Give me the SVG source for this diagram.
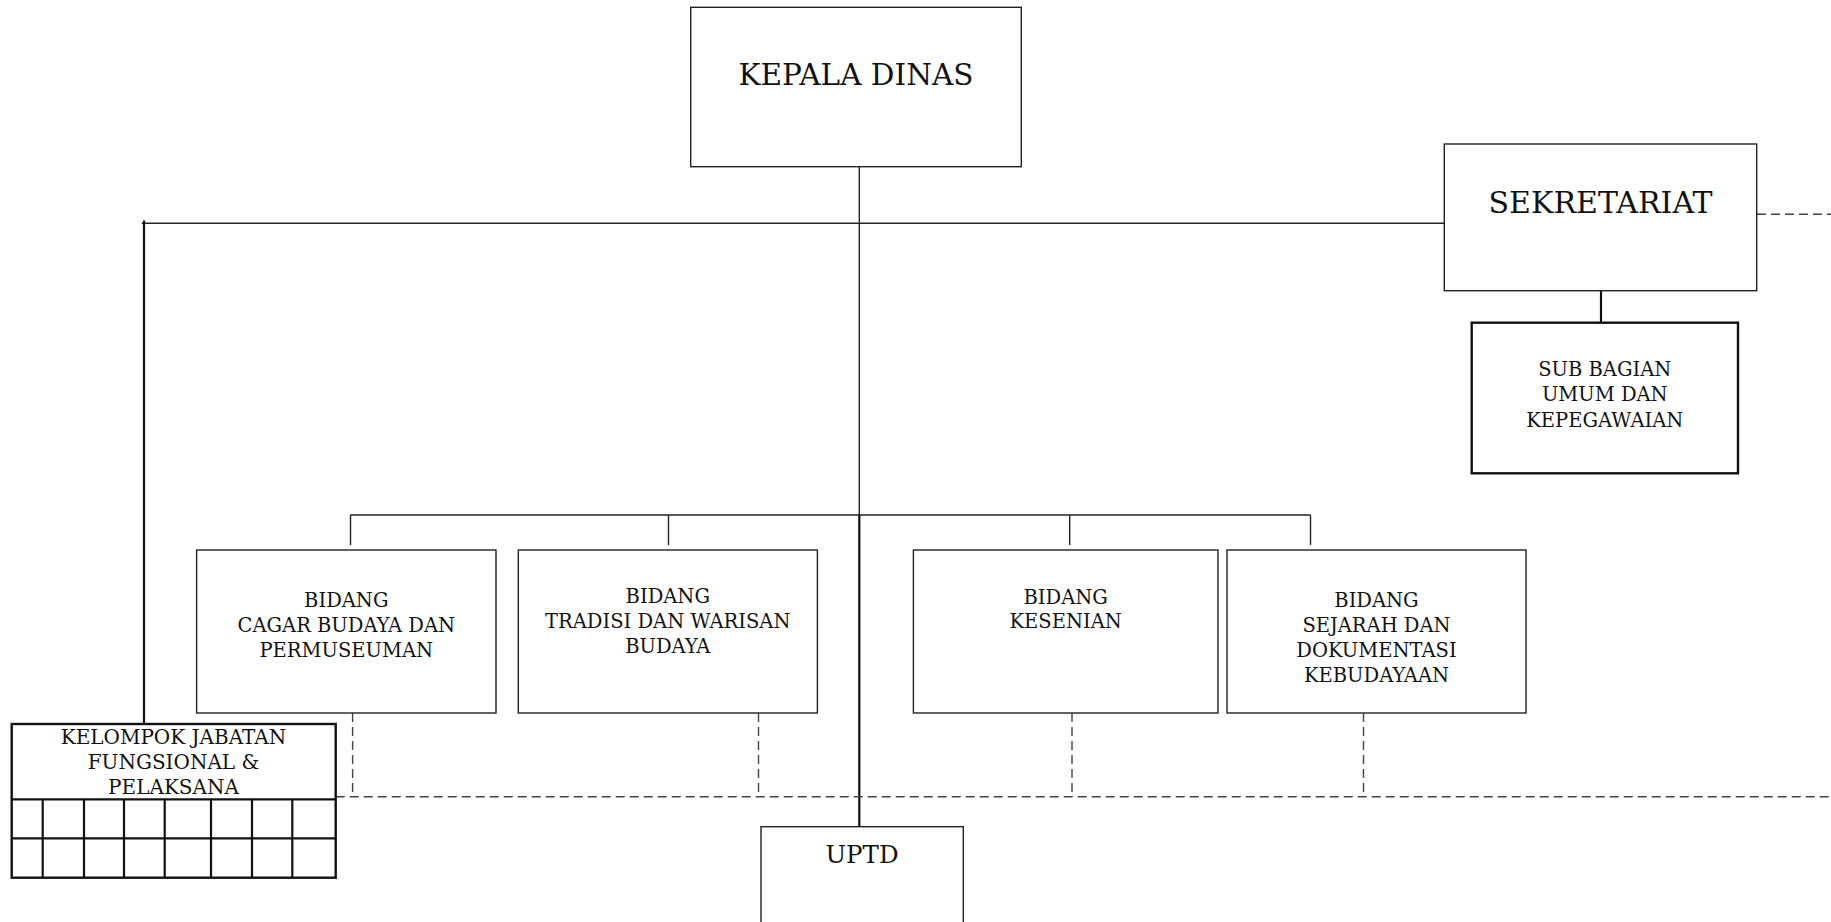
<svg xmlns="http://www.w3.org/2000/svg" width="1831" height="922" viewBox="0 0 1831 922">
<style>
.box{fill:#fff;stroke:#222;stroke-width:1.4}
.thick{fill:#fff;stroke:#111;stroke-width:2.4}
.ln{fill:none;stroke:#222;stroke-width:1.4}
.lnb{fill:none;stroke:#111;stroke-width:2.2}
.dash{fill:none;stroke:#444;stroke-width:1.4;stroke-dasharray:9 5}
text{font-family:"DejaVu Serif","Liberation Serif",serif;fill:#111;text-anchor:middle}
.big{font-size:29.5px}
.sm{font-size:19.5px}
</style>
<rect width="1831" height="922" fill="#fff"/>
<g id="connectors">
<line class="ln" x1="859.3" y1="166.7" x2="859.3" y2="515"/>
<line class="lnb" x1="859.3" y1="515" x2="859.3" y2="826.7"/>
<line class="ln" x1="141.7" y1="223.2" x2="1444.3" y2="223.2"/>
<line class="lnb" x1="144" y1="220.5" x2="144" y2="724"/>
<line class="lnb" x1="1601" y1="290.7" x2="1601" y2="322.7"/>
<line class="dash" x1="1757" y1="214.3" x2="1831" y2="214.3"/>
<line class="ln" x1="350.5" y1="515" x2="1310.5" y2="515"/>
<line class="ln" x1="350.5" y1="515" x2="350.5" y2="545"/>
<line class="ln" x1="668.5" y1="515" x2="668.5" y2="545"/>
<line class="ln" x1="1069.7" y1="515" x2="1069.7" y2="545"/>
<line class="ln" x1="1310.5" y1="515" x2="1310.5" y2="545"/>
<line class="dash" x1="352.6" y1="713" x2="352.6" y2="796.7"/>
<line class="dash" x1="758.5" y1="713" x2="758.5" y2="796.7"/>
<line class="dash" x1="1072" y1="713" x2="1072" y2="796.7"/>
<line class="dash" x1="1363.5" y1="713" x2="1363.5" y2="796.7"/>
<line class="dash" x1="335.7" y1="796.7" x2="1831" y2="796.7"/>
</g>
<g id="kepala-dinas">
<rect class="box" x="690.7" y="7.3" width="330.6" height="159.4"/>
<text class="big" x="856" y="85">KEPALA DINAS</text>
</g>
<g id="sekretariat">
<rect class="box" x="1444.3" y="144" width="312.4" height="146.7"/>
<text class="big" x="1600.5" y="213.3" style="font-size:30px">SEKRETARIAT</text>
</g>
<g id="sub-bagian">
<rect class="thick" x="1471.7" y="322.7" width="266.3" height="150.6"/>
<text class="sm" x="1604.8" y="375.7">SUB BAGIAN</text>
<text class="sm" x="1604.8" y="401">UMUM DAN</text>
<text class="sm" x="1604.8" y="426.5">KEPEGAWAIAN</text>
</g>
<g id="bidang-cagar">
<rect class="box" x="196.6" y="550" width="299.4" height="163"/>
<text class="sm" x="346.3" y="607">BIDANG</text>
<text class="sm" x="346.3" y="632">CAGAR BUDAYA DAN</text>
<text class="sm" x="346.3" y="656.5">PERMUSEUMAN</text>
</g>
<g id="bidang-tradisi">
<rect class="box" x="518.3" y="550" width="299.1" height="163"/>
<text class="sm" x="667.8" y="603">BIDANG</text>
<text class="sm" x="667.8" y="628">TRADISI DAN WARISAN</text>
<text class="sm" x="667.8" y="652.5">BUDAYA</text>
</g>
<g id="bidang-kesenian">
<rect class="box" x="913.4" y="550" width="304.6" height="163"/>
<text class="sm" x="1065.7" y="603.5">BIDANG</text>
<text class="sm" x="1065.7" y="628">KESENIAN</text>
</g>
<g id="bidang-sejarah">
<rect class="box" x="1227" y="550" width="299" height="163"/>
<text class="sm" x="1376.5" y="607">BIDANG</text>
<text class="sm" x="1376.5" y="632">SEJARAH DAN</text>
<text class="sm" x="1376.5" y="656.5">DOKUMENTASI</text>
<text class="sm" x="1376.5" y="681.5">KEBUDAYAAN</text>
</g>
<g id="kelompok-jabatan">
<rect class="thick" x="11.7" y="724" width="324" height="153.7"/>
<line class="lnb" x1="11.7" y1="799.3" x2="335.7" y2="799.3"/>
<line class="lnb" x1="11.7" y1="838.3" x2="335.7" y2="838.3"/>
<line class="lnb" x1="42.7" y1="799.3" x2="42.7" y2="877.7"/>
<line class="lnb" x1="84" y1="799.3" x2="84" y2="877.7"/>
<line class="lnb" x1="124" y1="799.3" x2="124" y2="877.7"/>
<line class="lnb" x1="164.7" y1="799.3" x2="164.7" y2="877.7"/>
<line class="lnb" x1="211" y1="799.3" x2="211" y2="877.7"/>
<line class="lnb" x1="252" y1="799.3" x2="252" y2="877.7"/>
<line class="lnb" x1="292.3" y1="799.3" x2="292.3" y2="877.7"/>
<text class="sm" x="173.5" y="744.3" style="font-size:20px">KELOMPOK JABATAN</text>
<text class="sm" x="173.5" y="769.3" style="font-size:20px">FUNGSIONAL &amp;</text>
<text class="sm" x="173.5" y="794.3" style="font-size:20px">PELAKSANA</text>
</g>
<g id="uptd">
<rect class="box" x="761" y="826.7" width="202.3" height="110"/>
<text x="862" y="863.3" style="font-size:24.5px">UPTD</text>
</g>
</svg>
